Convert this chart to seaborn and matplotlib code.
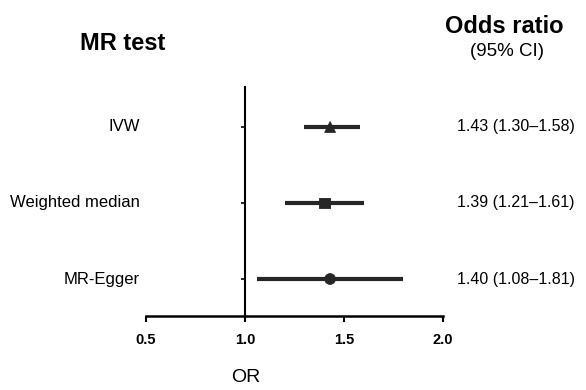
import seaborn as sns
import matplotlib.pyplot as plt
import matplotlib.transforms as mtransforms
import pandas as pd

# Forest plot data
methods = ["IVW", "Weighted median", "MR-Egger"]
or_est = [1.43, 1.40, 1.43]
ci_low = [1.30, 1.20, 1.06]
ci_high = [1.58, 1.60, 1.80]
or_text = ["1.43 (1.30\u20131.58)", "1.39 (1.21\u20131.61)", "1.40 (1.08\u20131.81)"]
rows = [3, 2, 1]
xticks = [0.5, 1.0, 1.5, 2.0]

df = pd.DataFrame({"method": methods, "OR": or_est, "lo": ci_low,
                   "hi": ci_high, "row": rows})

sns.set_style("white")
plt.rcParams['font.family'] = ['Liberation Sans', 'DejaVu Sans']
plt.rcParams['text.color'] = 'black'
plt.rcParams['xtick.color'] = 'black'
plt.rcParams['ytick.color'] = 'black'

fig = plt.figure(figsize=(5.86, 3.90), dpi=100)
ax = fig.add_axes([0.2491, 0.1897, 0.5068, 0.5872])

col = "#262626"
ax.hlines(df["row"], df["lo"], df["hi"], color=col, linewidth=3)
sns.scatterplot(data=df, x="OR", y="row", style="method",
                markers={"IVW": "^", "Weighted median": "s", "MR-Egger": "o"},
                color=col, s=60, edgecolor=col, legend=False, ax=ax, zorder=3)

ax.set_xlim(0.5, 2.0)
ax.set_ylim(0.513, 3.526)
ax.set_xticks(xticks)
ax.set_xticklabels([f"{t:.1f}" for t in xticks], fontsize=10.5, fontweight="bold")
ax.set_yticks(rows)
ax.set_yticklabels([])
ax.set_xlabel("")
ax.set_ylabel("")

for s in ["top", "right"]:
    ax.spines[s].set_visible(False)
ax.spines["left"].set_position(("data", 1.0))
ax.spines["left"].set_linewidth(1.5)
ax.spines["bottom"].set_linewidth(1.8)
ax.spines["left"].set_color("black")
ax.spines["bottom"].set_color("black")
ax.tick_params(axis="x", length=4.5, width=1.5, pad=8, bottom=True)
ax.tick_params(axis="y", length=3, width=1.2, left=True)

trans = mtransforms.blended_transform_factory(ax.transAxes, ax.transData)
for r, m, t in zip(rows, methods, or_text):
    ax.text(-0.02, r, m, ha="right", va="center", fontsize=12, transform=trans)
    ax.text(1.047, r, t, ha="left", va="center", fontsize=11.5, transform=trans)

fig.text(0.210, 0.8885, "MR test", ha="center", va="center",
         fontsize=17, fontweight="bold")
fig.text(0.860, 0.933, "Odds ratio", ha="center", va="center",
         fontsize=17, fontweight="bold")
fig.text(0.865, 0.869, "(95% CI)", ha="center", va="center", fontsize=13.5)
fig.text(0.42, 0.033, "OR", ha="center", va="center", fontsize=14)

fig.savefig("out.png", dpi=100)
